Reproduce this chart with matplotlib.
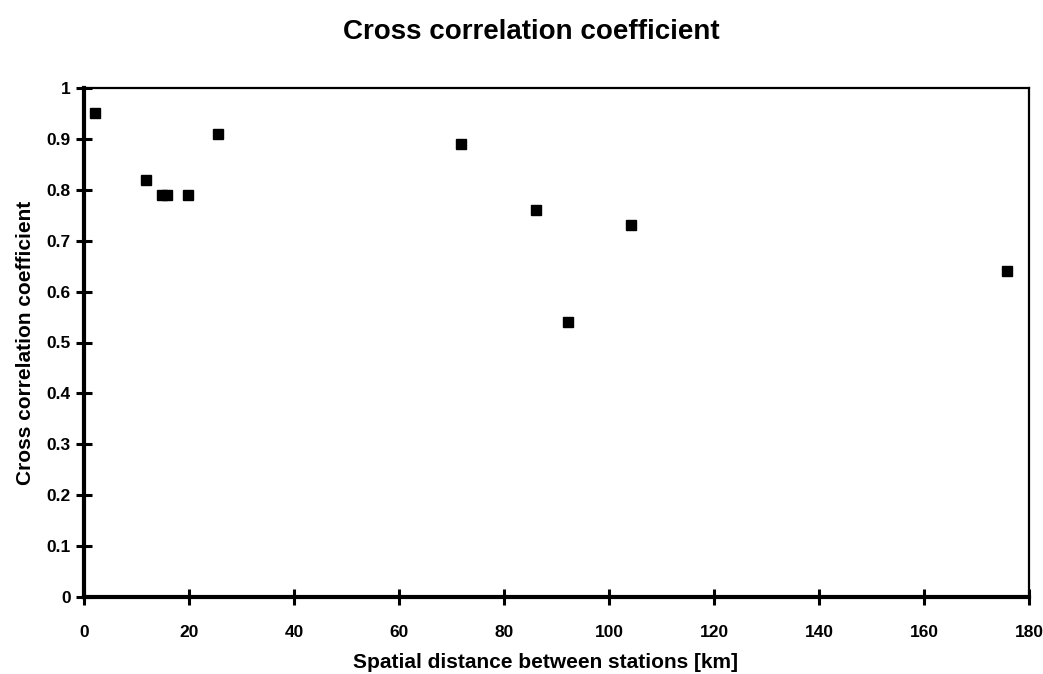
import matplotlib
matplotlib.use("Agg")
import matplotlib.pyplot as plt

plt.rcParams['font.family'] = ['Liberation Sans', 'DejaVu Sans']

distance_km = [2.0, 11.8, 14.8, 15.8, 19.8, 25.6, 71.8, 86.1, 92.1, 104.2, 175.8]
correlation = [0.95, 0.82, 0.79, 0.79, 0.79, 0.91, 0.89, 0.76, 0.54, 0.73, 0.64]

x_ticks = [0, 20, 40, 60, 80, 100, 120, 140, 160, 180]
y_ticks = [0, 0.1, 0.2, 0.3, 0.4, 0.5, 0.6, 0.7, 0.8, 0.9, 1]
y_tick_labels = ['0', '0.1', '0.2', '0.3', '0.4', '0.5', '0.6', '0.7', '0.8', '0.9', '1']

fig = plt.figure(figsize=(10.43, 6.74), dpi=100)
ax = fig.add_axes([84/1043, 1 - 597/674, (1029 - 84)/1043, (597 - 88)/674])

ax.plot(distance_km, correlation, linestyle='none', marker='s', markersize=6.5,
        color='black', markeredgecolor='black')

ax.set_xlim(0, 180)
ax.set_ylim(0, 1)
ax.set_xticks(x_ticks)
ax.set_xticklabels([str(t) for t in x_ticks])
ax.set_yticks(y_ticks)
ax.set_yticklabels(y_tick_labels)

for side in ['left', 'bottom']:
    ax.spines[side].set_linewidth(3)
for side in ['top', 'right']:
    ax.spines[side].set_linewidth(1.6)

ax.tick_params(axis='both', direction='inout', length=11, width=2.2,
               labelsize=12.5, color='black')
ax.tick_params(axis='x', pad=15)
ax.tick_params(axis='y', pad=4)
for lbl in ax.get_xticklabels() + ax.get_yticklabels():
    lbl.set_fontweight('bold')

ax.set_xlabel('Spatial distance between stations [km]', fontsize=15, fontweight='bold',
              va='center')
ax.xaxis.set_label_coords(0.488, -0.129)
ax.set_ylabel('Cross correlation coefficient', fontsize=15, fontweight='bold', labelpad=8)
fig.text(531/1043, 1 - 32/674, 'Cross correlation coefficient', ha='center', va='center',
         fontsize=20, fontweight='bold')

fig.savefig('out.png', dpi=100)
